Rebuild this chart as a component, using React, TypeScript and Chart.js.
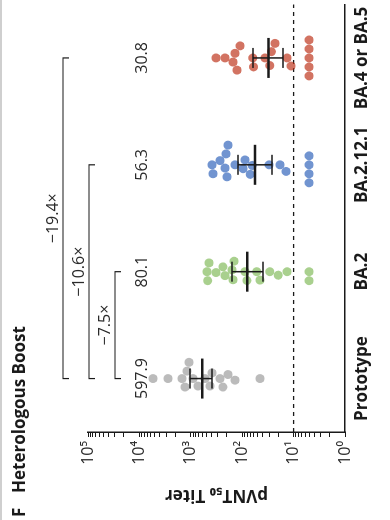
import React, { useEffect, useRef } from 'react';
import { Chart, registerables } from 'chart.js';

Chart.register(...registerables);

// ---------- data ----------
const categories = ['Prototype', 'BA.2', 'BA.2.12.1', 'BA.4 or BA.5'];
const prototypeTiters = [5430, 2780, 1485, 1084, 1185, 1297, 906, 724, 530, 423, 387, 271, 237, 189, 138, 45];
const ba2Titers = [484, 443, 470, 324, 237, 216, 158, 151, 144, 81, 88, 52, 45, 29, 20, 13.4, 5, 5];
const ba2121Titers = [387, 370, 271, 216, 198, 207, 189, 138, 96, 88, 64, 70, 30, 18.4, 14, 5, 5, 5, 5];
const ba45Titers = [324, 216, 151, 138, 126, 110, 62, 60, 36, 29, 27, 23, 13.4, 11.2, 5, 5, 5, 5, 5];
const geoMeans = [597.9, 80.1, 56.3, 30.8];
const ciLower = [386, 39.4, 26.3, 16.1];
const ciUpper = [1037, 158, 121, 61.6];
const comparisons: [number, number][] = [[0, 1], [0, 2], [0, 3]];
const limitOfDetection = 10;
const decades = [0, 1, 2, 3, 4, 5];
const minorMultipliers = [1, 2, 3, 4, 5, 6, 7, 8, 9];
const superscripts = ['⁰', '¹', '²', '³', '⁴', '⁵'];

const groups = [prototypeTiters, ba2Titers, ba2121Titers, ba45Titers];

// ---------- style ----------
const FONT = '"Open Sans", "Noto Sans", "DejaVu Sans", sans-serif';
const dotColors = [
  'rgba(150,150,150,0.65)',
  'rgba(128,186,88,0.68)',
  'rgba(45,98,186,0.68)',
  'rgba(188,48,24,0.68)',
];
const INK = '#1a1a1a';

function swarmOffsets(pixels: number[], minDist: number): number[] {
  const order = pixels.map((_, i) => i).sort((a, b) => pixels[a] - pixels[b]);
  const placed: { x: number; y: number }[] = [];
  const out = new Array(pixels.length).fill(0);
  for (const i of order) {
    const y = pixels[i];
    const blocks: [number, number][] = [];
    for (const p of placed) {
      const dy = Math.abs(p.y - y);
      if (dy < minDist) {
        const w = Math.sqrt(minDist * minDist - dy * dy);
        blocks.push([p.x - w, p.x + w]);
      }
    }
    const cands = [0];
    blocks.forEach(([a, b]) => cands.push(a, b));
    cands.sort((a, b) => Math.abs(a) - Math.abs(b));
    let chosen = 0;
    for (const c of cands) {
      if (blocks.every(([a, b]) => c <= a + 1e-6 || c >= b - 1e-6)) {
        chosen = c;
        break;
      }
    }
    placed.push({ x: chosen, y });
    out[i] = chosen;
  }
  return out;
}

const annotationPlugin = {
  id: 'annotations',
  beforeDatasetsDraw(chart: any) {
    const { ctx, chartArea, scales } = chart;
    const y = scales.y.getPixelForValue(limitOfDetection);
    ctx.save();
    ctx.strokeStyle = INK;
    ctx.lineWidth = 1.3;
    ctx.setLineDash([4, 4]);
    ctx.beginPath();
    ctx.moveTo(chartArea.left, y);
    ctx.lineTo(chartArea.right, y);
    ctx.stroke();
    ctx.restore();
  },
  afterDatasetsDraw(chart: any) {
    const { ctx, scales } = chart;
    ctx.save();
    ctx.strokeStyle = INK;
    geoMeans.forEach((gm, i) => {
      const cx = scales.x.getPixelForValue(i);
      const ym = scales.y.getPixelForValue(gm);
      const yl = scales.y.getPixelForValue(ciLower[i]);
      const yh = scales.y.getPixelForValue(ciUpper[i]);
      ctx.lineWidth = 1.5;
      ctx.beginPath();
      ctx.moveTo(cx, yl);
      ctx.lineTo(cx, yh);
      ctx.moveTo(cx - 10, yl);
      ctx.lineTo(cx + 10, yl);
      ctx.moveTo(cx - 10, yh);
      ctx.lineTo(cx + 10, yh);
      ctx.stroke();
      ctx.lineWidth = 2.5;
      ctx.beginPath();
      ctx.moveTo(cx - 20, ym);
      ctx.lineTo(cx + 20, ym);
      ctx.stroke();
    });
    ctx.restore();
  },
  afterDraw(chart: any) {
    const { ctx, chartArea, scales } = chart;
    ctx.save();
    // panel separator
    ctx.fillStyle = '#cfcfcf';
    ctx.fillRect(0, 0, chart.width, 2);
    // title
    ctx.fillStyle = INK;
    ctx.font = `bold 17px ${FONT}`;
    ctx.textBaseline = 'alphabetic';
    ctx.textAlign = 'left';
    ctx.fillText('F', 3, 25);
    ctx.fillText('Heterologous Boost', 27, 25);
    // GMT labels
    ctx.font = `16px ${FONT}`;
    ctx.fillStyle = '#2a2a2a';
    ctx.textAlign = 'center';
    geoMeans.forEach((gm, i) => {
      ctx.fillText(gm.toFixed(1), scales.x.getPixelForValue(i), chartArea.top + 59);
    });
    // comparison brackets
    ctx.strokeStyle = INK;
    ctx.lineWidth = 1.2;
    comparisons.forEach(([a, b], k) => {
      const y = chartArea.top + 27 - k * 26;
      const xa = scales.x.getPixelForValue(a);
      const xb = scales.x.getPixelForValue(b);
      ctx.beginPath();
      ctx.moveTo(xa, y + 6);
      ctx.lineTo(xa, y);
      ctx.lineTo(xb, y);
      ctx.lineTo(xb, y + 6);
      ctx.stroke();
      const fold = geoMeans[a] / geoMeans[b];
      ctx.fillText(`\u2212${fold.toFixed(1)}\u00d7`, (xa + xb) / 2, y - 5);
    });
    ctx.restore();
  },
};

export default function App() {
  const ref = useRef<HTMLCanvasElement>(null);
  useEffect(() => {
    const datasets = groups.map((vals, i) => ({
      type: 'scatter' as const,
      data: vals.map((v) => ({ x: i, y: v })),
      backgroundColor: dotColors[i],
      borderWidth: 0,
      pointRadius: 4.5,
      pointHoverRadius: 4.5,
    }));
    const chart = new Chart(ref.current!, {
      type: 'scatter',
      data: { datasets },
      plugins: [annotationPlugin],
      options: {
        responsive: false,
        animation: false,
        events: [],
        layout: { padding: { top: 88, left: 0, right: 0, bottom: 0 } },
        plugins: { legend: { display: false }, tooltip: { enabled: false } },
        scales: {
          x: {
            type: 'linear',
            min: -0.5,
            max: 3.5,
            afterBuildTicks: (s: any) => {
              s.ticks = categories.map((_, i) => ({ value: i }));
            },
            afterFit: (s: any) => {
              s.height = 45;
              s.paddingLeft = 0;
              s.paddingRight = 0;
            },
            grid: { display: true, drawOnChartArea: false, drawTicks: false },
            border: { display: true, color: INK, width: 1.5 },
            ticks: {
              autoSkip: false,
              maxRotation: 0,
              minRotation: 0,
              padding: 7,
              color: INK,
              font: { family: FONT, size: 17, weight: 'bold' },
              callback: (v: any) => categories[Math.round(v)] ?? '',
            },
          },
          y: {
            type: 'logarithmic',
            min: 1,
            max: 100000,
            afterBuildTicks: (s: any) => {
              const t: { value: number }[] = [];
              decades.forEach((d) => {
                if (d === decades[decades.length - 1]) {
                  t.push({ value: Math.pow(10, d) });
                } else {
                  minorMultipliers.forEach((m) => t.push({ value: m * Math.pow(10, d) }));
                }
              });
              s.ticks = t;
            },
            afterFit: (s: any) => {
              s.width = 88;
              s.paddingTop = 0;
              s.paddingBottom = 0;
            },
            grid: {
              display: true,
              drawOnChartArea: false,
              drawTicks: true,
              tickLength: 5,
              color: INK,
              lineWidth: 1,
            },
            border: { display: true, color: INK, width: 1.5 },
            title: {
              display: true,
              text: 'pVNT\u2085\u2080 Titer',
              color: INK,
              font: { family: FONT, size: 17, weight: 'bold' },
              padding: { top: 15, bottom: 0 },
            },
            ticks: {
              autoSkip: false,
              padding: 4,
              color: '#2a2a2a',
              font: { family: FONT, size: 16 },
              callback: (v: any) => {
                const e = Math.round(Math.log10(v));
                return Math.abs(Math.log10(v) - e) < 1e-9 ? `10${superscripts[e]}` : '';
              },
            },
          },
        },
      } as any,
    });
    // beeswarm layout computed from the chart's own scales
    const xs = chart.scales.x;
    const ys = chart.scales.y;
    const unit = Math.abs(xs.getPixelForValue(1) - xs.getPixelForValue(0));
    groups.forEach((vals, i) => {
      const px = vals.map((v) => ys.getPixelForValue(v));
      const offs = swarmOffsets(px, 9);
      (chart.data.datasets[i] as any).data = vals.map((v, j) => ({ x: i + offs[j] / unit, y: v }));
    });
    chart.update('none');
    return () => chart.destroy();
  }, []);

  return (
    <div
      style={{
        position: 'fixed',
        left: 0,
        top: 0,
        width: 390,
        height: 520,
        overflow: 'hidden',
        background: '#fff',
      }}
    >
      <div
        style={{
          position: 'absolute',
          left: 0,
          top: 0,
          width: 520,
          height: 390,
          transformOrigin: '0 0',
          transform: 'translateY(520px) rotate(-90deg)',
        }}
      >
        <canvas ref={ref} width={520} height={390} style={{ display: 'block', width: 520, height: 390 }} />
      </div>
    </div>
  );
}
